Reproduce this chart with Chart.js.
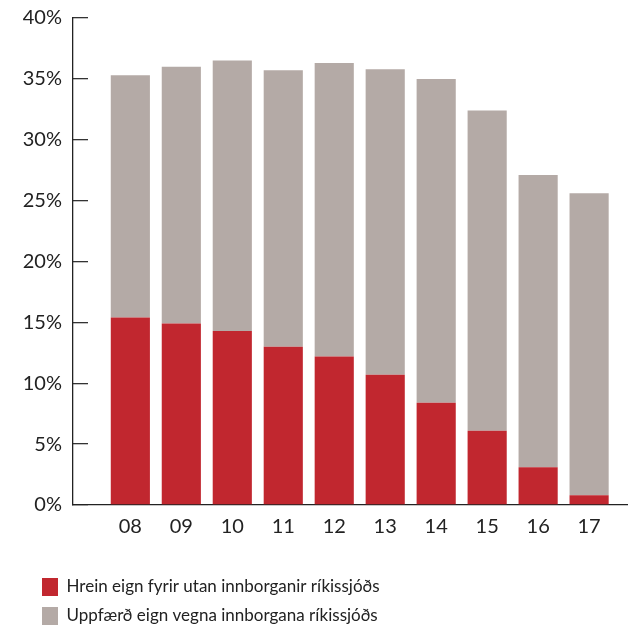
<!DOCTYPE html>
<html>
<head>
<meta charset="utf-8">
<script src="https://cdn.jsdelivr.net/npm/chart.js@4.4.1/dist/chart.umd.min.js"></script>
<style>
  html, body { margin: 0; padding: 0; background: #fff; }
  #wrap { width: 628px; height: 627px; }
</style>
</head>
<body>
<div id="wrap"><canvas id="myChart" width="628" height="627"></canvas></div>
<script>
// ár (tveir síðustu stafir)
var years = ["08", "09", "10", "11", "12", "13", "14", "15", "16", "17"];
// hlutfall í %
var hreinEign = [15.4, 14.9, 14.3, 13.0, 12.2, 10.7, 8.4, 6.1, 3.1, 0.8];
var uppfaerdEign = [19.9, 21.1, 22.2, 22.7, 24.1, 25.1, 26.6, 26.3, 24.0, 24.8];
var seriesNames = ["Hrein eign fyrir utan innborganir ríkissjóðs", "Uppfærð eign vegna innborgana ríkissjóðs"];
var yTicks = [0, 5, 10, 15, 20, 25, 30, 35, 40];

var fontFamily = "Lato, 'Open Sans', sans-serif";
var textColor = "#222";

// x-ás er línulegur svo fyrsta súlan standi frá y-ásnum
function toPoints(arr) {
    return arr.map(function (v, i) { return { x: i, y: v }; });
}

// færir skýringuna til hægri og niður
var legendShift = {
    id: "legendShift",
    afterLayout: function (chart) {
        var lg = chart.legend;
        lg.left += 31; lg.right += 31;
        lg.top += 18; lg.bottom += 18;
    }
};

var chart = new Chart("myChart", {
    type: "bar",
    data: {
        datasets: [{
            label: seriesNames[0],
            data: toPoints(hreinEign),
            backgroundColor: "#c1272f",
            barPercentage: 0.96,
            categoryPercentage: 0.8
        }, {
            label: seriesNames[1],
            data: toPoints(uppfaerdEign),
            backgroundColor: "#b4aaa6",
            barPercentage: 0.96,
            categoryPercentage: 0.8
        }]
    },
    options: {
        responsive: false,
        animation: false,
        layout: { padding: { left: 0, top: 0, right: 0, bottom: 10 } },
        plugins: {
            tooltip: { enabled: false },
            legend: {
                position: "bottom",
                align: "start",
                labels: {
                    boxWidth: 16,
                    boxHeight: 18,
                    padding: 11,
                    color: textColor,
                    font: { family: fontFamily, size: 17 }
                }
            }
        },
        scales: {
            x: {
                type: "linear",
                stacked: true,
                offset: false,
                bounds: "data",
                min: -1.125,
                max: 9.763,
                afterBuildTicks: function (scale) {
                    scale.ticks = years.map(function (y, i) { return { value: i }; });
                },
                grid: { offset: false, drawOnChartArea: false, drawTicks: false },
                border: { color: "#222", width: 1.3 },
                ticks: {
                    autoSkip: false,
                    maxRotation: 0,
                    padding: 10,
                    color: textColor,
                    font: { family: fontFamily, size: 20 },
                    callback: function (v) { return years[v]; }
                }
            },
            y: {
                stacked: true,
                min: yTicks[0],
                max: yTicks[yTicks.length - 1],
                afterFit: function (scale) {
                    scale.width = 73;
                    scale.paddingTop = 18;
                    scale.paddingBottom = 11;
                },
                grid: { drawOnChartArea: false, drawTicks: true, tickLength: -15, color: "#333", lineWidth: 1.3 },
                border: { color: "#222", width: 1.3 },
                ticks: {
                    stepSize: 5,
                    padding: 26,
                    color: textColor,
                    font: { family: fontFamily, size: 20 },
                    callback: function (v) { return v + "%"; }
                }
            }
        }
    },
    plugins: [legendShift]
});
</script>
</body>
</html>
